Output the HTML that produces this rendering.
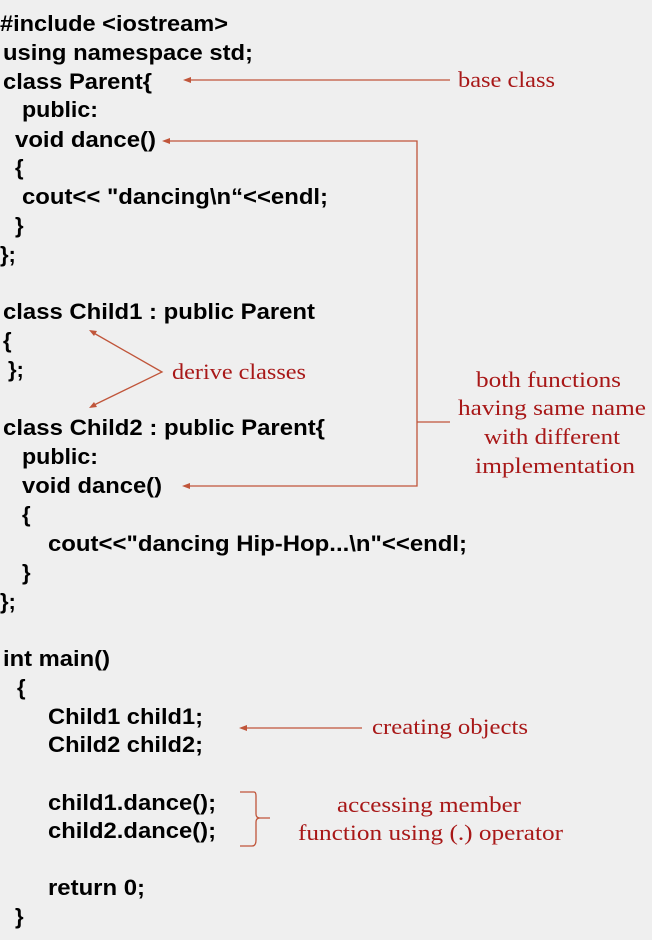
<!DOCTYPE html>
<html><head><style>
html,body{margin:0;padding:0;background:#efefef;}
svg{display:block}
.c{font-family:"Liberation Sans",sans-serif;font-weight:bold;font-size:22px;fill:#000}
.r{font-family:"Liberation Serif",serif;font-size:22px;fill:#a81818}
.l{stroke:#c0553a;stroke-width:1.3;fill:none}
</style></head><body>
<svg width="652" height="940" xmlns="http://www.w3.org/2000/svg">
<rect width="652" height="940" fill="#efefef"/>
<g class="c">
<text x="0" y="31" textLength="228" lengthAdjust="spacingAndGlyphs">#include &lt;iostream&gt;</text>
<text x="3" y="60" textLength="250" lengthAdjust="spacingAndGlyphs">using namespace std;</text>
<text x="3" y="89" textLength="149" lengthAdjust="spacingAndGlyphs">class Parent{</text>
<text x="22" y="117" textLength="76" lengthAdjust="spacingAndGlyphs">public:</text>
<text x="15" y="147" textLength="141" lengthAdjust="spacingAndGlyphs">void dance()</text>
<text x="15" y="175">{</text>
<text x="22" y="204" textLength="306" lengthAdjust="spacingAndGlyphs">cout&lt;&lt; "dancing\n“&lt;&lt;endl;</text>
<text x="15" y="233">}</text>
<text x="0" y="262">};</text>
<text x="3" y="319" textLength="312" lengthAdjust="spacingAndGlyphs">class Child1 : public Parent</text>
<text x="3" y="348">{</text>
<text x="8" y="377">};</text>
<text x="3" y="435" textLength="322" lengthAdjust="spacingAndGlyphs">class Child2 : public Parent{</text>
<text x="22" y="464" textLength="76" lengthAdjust="spacingAndGlyphs">public:</text>
<text x="22" y="493" textLength="140" lengthAdjust="spacingAndGlyphs">void dance()</text>
<text x="22" y="522">{</text>
<text x="48" y="551" textLength="419" lengthAdjust="spacingAndGlyphs">cout&lt;&lt;"dancing Hip-Hop...\n"&lt;&lt;endl;</text>
<text x="22" y="580">}</text>
<text x="0" y="609">};</text>
<text x="3" y="666" textLength="107" lengthAdjust="spacingAndGlyphs">int main()</text>
<text x="17" y="695">{</text>
<text x="48" y="724" textLength="155" lengthAdjust="spacingAndGlyphs">Child1 child1;</text>
<text x="48" y="752" textLength="155" lengthAdjust="spacingAndGlyphs">Child2 child2;</text>
<text x="48" y="810" textLength="168" lengthAdjust="spacingAndGlyphs">child1.dance();</text>
<text x="48" y="838" textLength="168" lengthAdjust="spacingAndGlyphs">child2.dance();</text>
<text x="48" y="895" textLength="97" lengthAdjust="spacingAndGlyphs">return 0;</text>
<text x="15" y="924">}</text>
</g>
<g class="l">
<line x1="186" y1="80" x2="450" y2="80"/>
<polyline points="165,141 417,141 417,486 185,486"/>
<line x1="417" y1="422" x2="450" y2="422"/>
<polyline points="92,332 162,372 92,406"/>
<line x1="242" y1="728" x2="362" y2="728"/>
<path d="M240,792 H254 Q256,792 256,796 V814 Q256,818 260,818 H270 M260,818 Q256,818 256,822 V840 Q256,846 252,846 H240"/>
</g>
<g fill="#c0553a">
<polygon points="183,80 191,77 191,83"/>
<polygon points="162,141 170,138 170,144"/>
<polygon points="182,486 190,483 190,489"/>
<polygon points="89,330 97,331 94,336"/>
<polygon points="89,408 94,402 97,407"/>
<polygon points="239,728 247,725 247,731"/>
</g>
<g class="r">
<text x="458" y="87" textLength="97" lengthAdjust="spacingAndGlyphs">base class</text>
<text x="172" y="379" textLength="134" lengthAdjust="spacingAndGlyphs">derive classes</text>
<text x="476" y="387" textLength="145" lengthAdjust="spacingAndGlyphs">both functions</text>
<text x="458" y="415" textLength="188" lengthAdjust="spacingAndGlyphs">having same name</text>
<text x="484" y="444" textLength="136" lengthAdjust="spacingAndGlyphs">with different</text>
<text x="475" y="473" textLength="160" lengthAdjust="spacingAndGlyphs">implementation</text>
<text x="372" y="734" textLength="156" lengthAdjust="spacingAndGlyphs">creating objects</text>
<text x="337" y="812" textLength="184" lengthAdjust="spacingAndGlyphs">accessing member</text>
<text x="298" y="840" textLength="265" lengthAdjust="spacingAndGlyphs">function using (.) operator</text>
</g>
</svg>
</body></html>
